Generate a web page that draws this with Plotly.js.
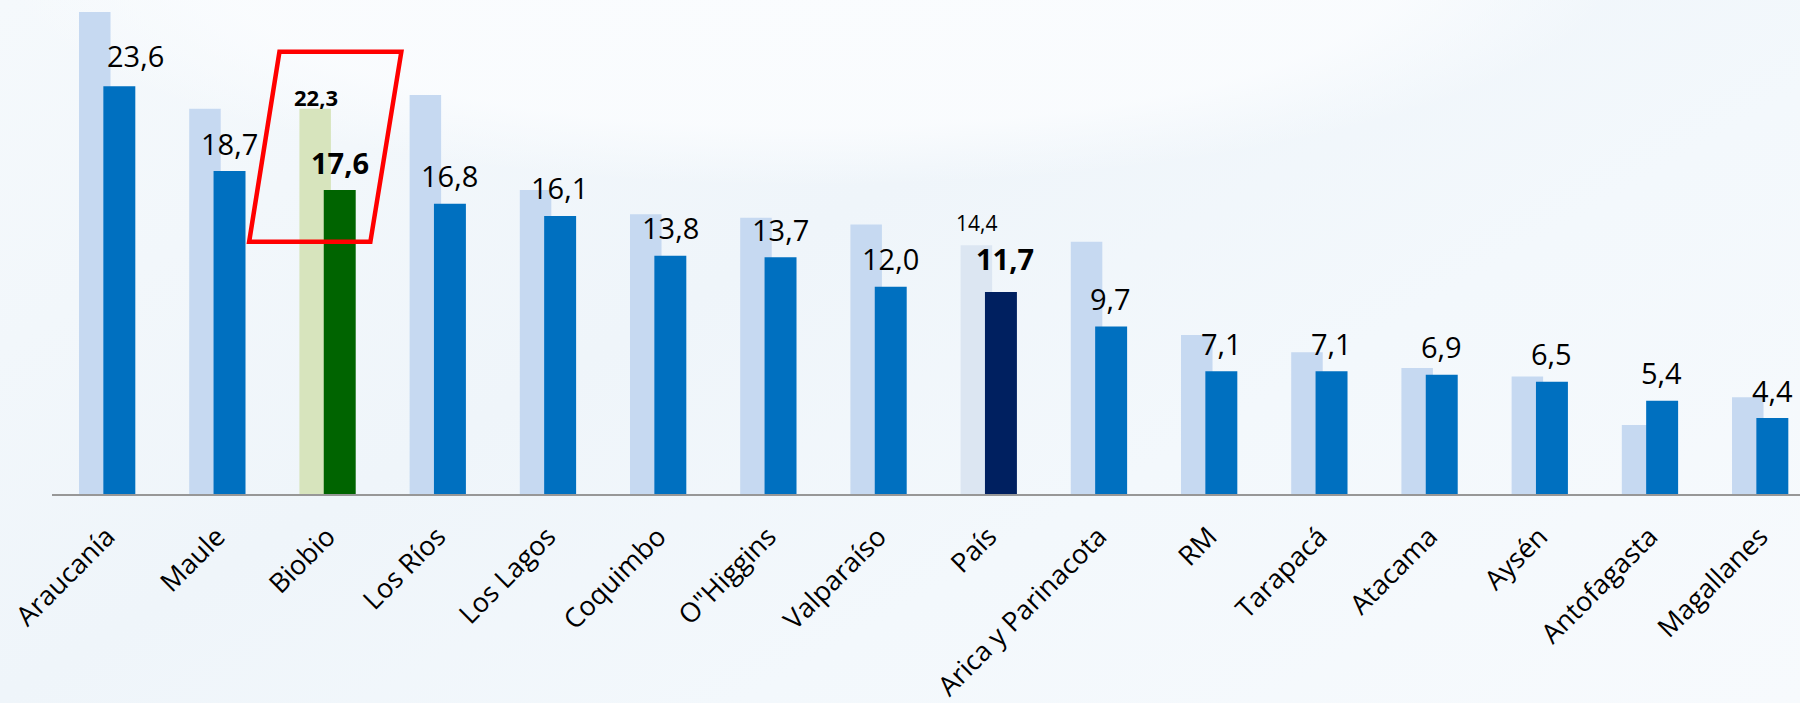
<!DOCTYPE html>
<html>
<head>
<meta charset="utf-8">
<script src="https://cdn.plot.ly/plotly-3.0.1.min.js"></script>
<style>
  html, body { margin: 0; padding: 0; }
  body {
    width: 1800px; height: 703px; overflow: hidden;
    background:
      radial-gradient(ellipse 60% 42% at 45% -5%, rgba(250,252,254,1) 0%, rgba(250,252,254,0.9) 55%, rgba(250,252,254,0) 75%),
      linear-gradient(150deg, #F5F9FC 0%, #EFF5FA 40%, #F3F8FC 65%, #F7FAFD 100%);
  }
  #chart { width: 1800px; height: 703px; }
</style>
</head>
<body>
<div id="chart"></div>
<script>
const categories = ['Araucanía','Maule','Biobio','Los Ríos','Los Lagos','Coquimbo','O"Higgins','Valparaíso','País','Arica y Parinacota','RM','Tarapacá','Atacama','Aysén','Antofagasta','Magallanes'];
const previousValues = [27.9,22.3,22.3,23.1,17.6,16.2,16.0,15.6,14.4,14.6,9.2,8.2,7.3,6.8,4.0,5.6];
const currentValues  = [23.6,18.7,17.6,16.8,16.1,13.8,13.7,12.0,11.7,9.7,7.1,7.1,6.9,6.5,5.4,4.4];
const highlightRegion = 'Biobio';
const countryTotal = 'País';

const fmt = v => v.toFixed(1).replace('.', ',');

const lightColors = categories.map(c => c === highlightRegion ? '#D7E4BD' : (c === countryTotal ? '#DCE6F2' : '#C6D9F1'));
const darkColors  = categories.map(c => c === highlightRegion ? '#006400' : (c === countryTotal ? '#002060' : '#0070C0'));

// small per-label nudges (pixels) where the original label sits off its usual spot
const labelNudge = { 'Araucanía': [16, -3], 'País': [4, -5] };

const traces = [
  {
    type: 'bar', x: categories, y: previousValues,
    offset: -0.255, width: 0.286,
    marker: { color: lightColors, line: { width: 0 } },
    hoverinfo: 'x+y'
  },
  {
    type: 'bar', x: categories, y: currentValues,
    offset: -0.034, width: 0.29,
    marker: { color: darkColors, line: { width: 0 } },
    hoverinfo: 'x+y'
  }
];

const annotations = [];
categories.forEach((c, i) => {
  const special = (c === highlightRegion || c === countryTotal);
  const n = labelNudge[c] || [0, 0];
  annotations.push({
    x: c, y: currentValues[i], xref: 'x', yref: 'y',
    text: special ? '<b>' + fmt(currentValues[i]) + '</b>' : fmt(currentValues[i]),
    showarrow: false, xanchor: 'center', yanchor: 'middle',
    xshift: 12 + n[0], yshift: 28 - n[1],
    font: { family: 'Open Sans, sans-serif', size: 29, color: '#000000' }
  });
  if (special) {
    annotations.push({
      x: c, y: previousValues[i], xref: 'x', yref: 'y',
      text: c === highlightRegion ? '<b>' + fmt(previousValues[i]) + '</b>' : fmt(previousValues[i]),
      showarrow: false, xanchor: 'center', yanchor: 'middle',
      xshift: -12, yshift: c === highlightRegion ? 12 : 22,
      font: { family: 'Open Sans, sans-serif', size: c === highlightRegion ? 22 : 21, color: '#000000' }
    });
  }
});

const layout = {
  width: 1800, height: 703,
  margin: { l: 52, r: 0, t: 0, b: 209 },
  paper_bgcolor: 'rgba(0,0,0,0)',
  plot_bgcolor: 'rgba(0,0,0,0)',
  barmode: 'overlay',
  showlegend: false,
  xaxis: {
    type: 'category',
    range: [-0.5, 15.362],
    showline: true, linecolor: '#979797', linewidth: 2,
    ticks: '', showgrid: false, zeroline: false,
    tickangle: -45,
    ticklabelstandoff: 14,
    tickfont: { family: 'Open Sans, sans-serif', size: 27, color: '#000000' }
  },
  yaxis: {
    range: [0, 28.6], visible: false, showgrid: false, zeroline: false
  },
  annotations: annotations,
  shapes: [{
    type: 'path', xref: 'x', yref: 'y',
    path: 'M 1.564,25.6 L 2.67,25.6 L 2.389,14.6 L 1.289,14.6 Z',
    line: { color: '#FF0000', width: 4.5 },
    fillcolor: 'rgba(0,0,0,0)'
  }]
};

Plotly.newPlot('chart', traces, layout, { displayModeBar: false, responsive: false });
</script>
</body>
</html>
